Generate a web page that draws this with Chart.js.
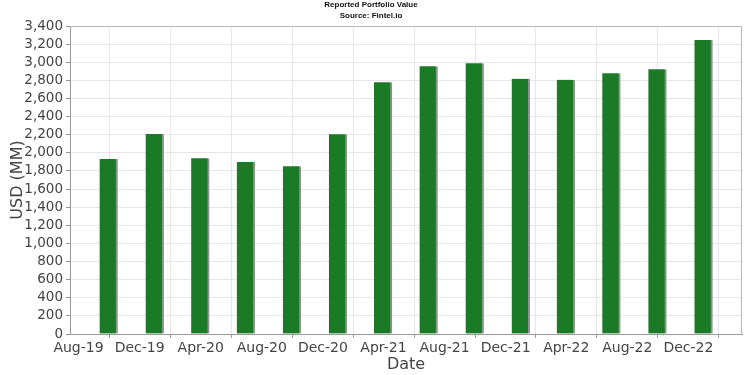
<!DOCTYPE html>
<html>
<head>
<meta charset="utf-8">
<script src="https://cdn.jsdelivr.net/npm/chart.js@4.4.1/dist/chart.umd.min.js"></script>
<style>
  html, body { margin: 0; padding: 0; background: #fff; }
  #wrap { width: 750px; height: 375px; }
</style>
</head>
<body>
<div id="wrap"><canvas id="portfolioChart" width="750" height="375"></canvas></div>
<script>
// quarter end filing dates and reported value (USD MM)
const quarterDates = ['2019-09-30', '2019-12-31', '2020-03-31', '2020-06-30', '2020-09-30', '2020-12-31',
  '2021-03-31', '2021-06-30', '2021-09-30', '2021-12-31', '2022-03-31', '2022-06-30', '2022-09-30', '2022-12-31'];
const portfolioValues = [1932, 2208, 1940, 1900, 1852, 2205, 2778, 2955, 2988, 2818, 2807, 2878, 2922, 3245];

// x axis ticks (first of month, every 4 months)
const tickDates = ['2019-08-01', '2019-12-01', '2020-04-01', '2020-08-01', '2020-12-01', '2021-04-01',
  '2021-08-01', '2021-12-01', '2022-04-01', '2022-08-01', '2022-12-01'];
const tickLabels = ['Aug-19', 'Dec-19', 'Apr-20', 'Aug-20', 'Dec-20', 'Apr-21',
  'Aug-21', 'Dec-21', 'Apr-22', 'Aug-22', 'Dec-22'];

const xMin = Date.parse('2019-07-15');
const xMax = Date.parse('2023-03-18');

const FONT = "'DejaVu Sans', sans-serif";

// plot frame (top + right edges)
const frame = {
  id: 'frame',
  afterDatasetsDraw(chart) {
    const { ctx, chartArea } = chart;
    ctx.save();
    ctx.strokeStyle = '#b8b8b8';
    ctx.lineWidth = 1;
    ctx.beginPath();
    ctx.moveTo(chartArea.left, chartArea.top + 0.5);
    ctx.lineTo(chartArea.right - 0.5, chartArea.top + 0.5);
    ctx.lineTo(chartArea.right - 0.5, chartArea.bottom);
    ctx.stroke();
    ctx.restore();
  }
};

const ctx = document.getElementById('portfolioChart').getContext('2d');
new Chart(ctx, {
  type: 'bar',
  data: {
    datasets: [{
      label: 'Reported Portfolio Value',
      data: quarterDates.map((d, i) => ({ x: Date.parse(d), y: portfolioValues[i] })),
      backgroundColor: '#1b7a26',
      borderColor: '#8c938c',
      borderWidth: { top: 0, right: 2, bottom: 0, left: 0 },
      borderSkipped: false,
      barThickness: 18
    }]
  },
  options: {
    responsive: false,
    animation: false,
    layout: { padding: { left: 0, right: 8, top: 0, bottom: 0 } },
    plugins: {
      legend: { display: false },
      tooltip: { enabled: false },
      title: {
        display: true,
        text: ['Reported Portfolio Value', 'Source: Fintel.io'],
        color: '#111',
        font: { family: "'Liberation Sans', Arial, sans-serif", size: 8, weight: 'bold', lineHeight: 1.3 },
        padding: { top: 0, bottom: 5.2 }
      }
    },
    scales: {
      x: {
        type: 'linear',
        min: xMin,
        max: xMax,
        offset: false,
        afterBuildTicks(scale) {
          scale.ticks = tickDates.map(d => ({ value: Date.parse(d) }));
        },
        afterFit(scale) { scale.height = 41; },
        ticks: {
          autoSkip: false,
          maxRotation: 0,
          padding: 2,
          color: '#444',
          font: { family: FONT, size: 14 },
          callback: (v, i) => tickLabels[i]
        },
        grid: { color: '#e6e6e6', tickLength: 4, tickColor: '#999' },
        border: { color: '#999' },
        title: {
          display: true,
          text: 'Date',
          color: '#444',
          font: { family: FONT, size: 16 },
          padding: { top: 0, bottom: 1 }
        }
      },
      y: {
        min: 0,
        max: 3400,
        afterFit(scale) { scale.width = 70; },
        ticks: {
          stepSize: 200,
          autoSkip: false,
          padding: 3,
          color: '#444',
          font: { family: FONT, size: 13.5 },
          callback: v => v.toLocaleString('en-US')
        },
        grid: { color: '#e6e6e6', tickLength: 4, tickColor: '#999' },
        border: { color: '#999' },
        title: {
          display: true,
          text: 'USD (MM)',
          color: '#444',
          font: { family: FONT, size: 16 },
          padding: { top: 8, bottom: 0 }
        }
      }
    }
  },
  plugins: [frame]
});
</script>
</body>
</html>
